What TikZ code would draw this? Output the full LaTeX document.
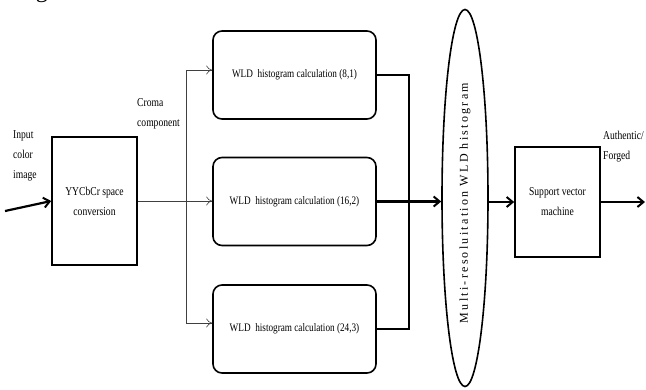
\documentclass[tikz,border=0pt]{standalone}
\usepackage{fontspec}
\setmainfont{Liberation Serif}
\newfontfamily\spacedfont[LetterSpace=19]{Liberation Serif}
\usetikzlibrary{arrows.meta,shapes.geometric}
\newcommand\cnd[1]{\scalebox{0.8}[1]{#1}}
\begin{document}
\begin{tikzpicture}[x=1pt,y=-1pt,
  sqbox/.style={draw,line width=1.6pt,inner sep=0pt,align=center,font=\fontsize{12}{20}\selectfont},
  rbox/.style={draw,line width=1.6pt,rounded corners=9pt,inner sep=0pt,minimum width=163,minimum height=88,font=\fontsize{11.5}{13}\selectfont},
  thinline/.style={draw=black!75,line width=0.6pt},
  thinarrow/.style={thinline,-{To[length=6pt,width=9pt]}},
  thickline/.style={draw,line width=2.2pt},
  thickarrow/.style={thickline,-{Straight Barb[length=6pt,width=10pt,line width=2pt]}},
  lbl/.style={align=left,inner sep=0pt,font=\fontsize{12}{20}\selectfont}
]
\useasboundingbox (0,0) rectangle (646,389);
\fill[white] (0,0) rectangle (646,389);
% cropped text at the top edge
\node[anchor=south west,inner sep=0pt,font=\fontsize{24}{24}\selectfont] (fg) at (8,2.5) {forged.};
% nodes
\node[sqbox,minimum width=85,minimum height=128] (ycc) at (94.5,201) {\cnd{YYCbCr space}\\\cnd{conversion}};
\node[rbox] (w1) at (294.5,75) {\cnd{WLD\ \ histogram calculation (8,1)}};
\node[rbox] (w2) at (294.5,201.5) {\cnd{WLD\ \ histogram calculation (16,2)}};
\node[rbox] (w3) at (294.5,329) {\cnd{WLD\ \ histogram calculation (24,3)}};
\node[draw,ellipse,line width=1.6pt,minimum width=46,minimum height=377,inner sep=0pt] (ell) at (465,198) {};
\node[rotate=90,inner sep=0pt,font=\spacedfont\fontsize{12}{14}\selectfont] (elltxt) at (465,203) {Multi-resoluitation WLD histogram};
\node[sqbox,minimum width=85,minimum height=110] (svm) at (557.5,202) {\cnd{Support vector}\\\cnd{machine}};
% labels
\node[lbl,anchor=north west] (inlbl) at (13,130) {\cnd{Input}\\\cnd{color}\\\cnd{image}};
\node[lbl,anchor=north west] (cro) at (137,98) {\cnd{Croma}\\\cnd{component}};
\node[lbl,anchor=north west] (auth) at (603,131) {\cnd{Authentic/}\\\cnd{Forged}};
% input arrow
\coordinate (in) at (5,211);
\draw[thickarrow] (in) -- (ycc.west);
% branching
\coordinate (bt) at (186,70);
\coordinate (bb) at (186,323);
\draw[thinline] (bt) -- (bb);
\draw[thinarrow] (bt) -- (bt -| w1.west);
\draw[thinarrow] (ycc.east) -- (ycc.east -| w2.west);
\draw[thinarrow] (bb) -- (bb -| w3.west);
% merging
\coordinate (jx) at (409,0);
\draw[thickline] (w1.east) -- (w1.east -| jx) -- (w3.east -| jx) -- (w3.east);
\draw[thickarrow] (w2.east) -- (w2.east -| ell.west);
\draw[thickarrow] (ell.east |- svm.west) -- (svm.west);
\coordinate (out) at (645,202);
\draw[thickarrow] (svm.east) -- (out);
\end{tikzpicture}
\end{document}
